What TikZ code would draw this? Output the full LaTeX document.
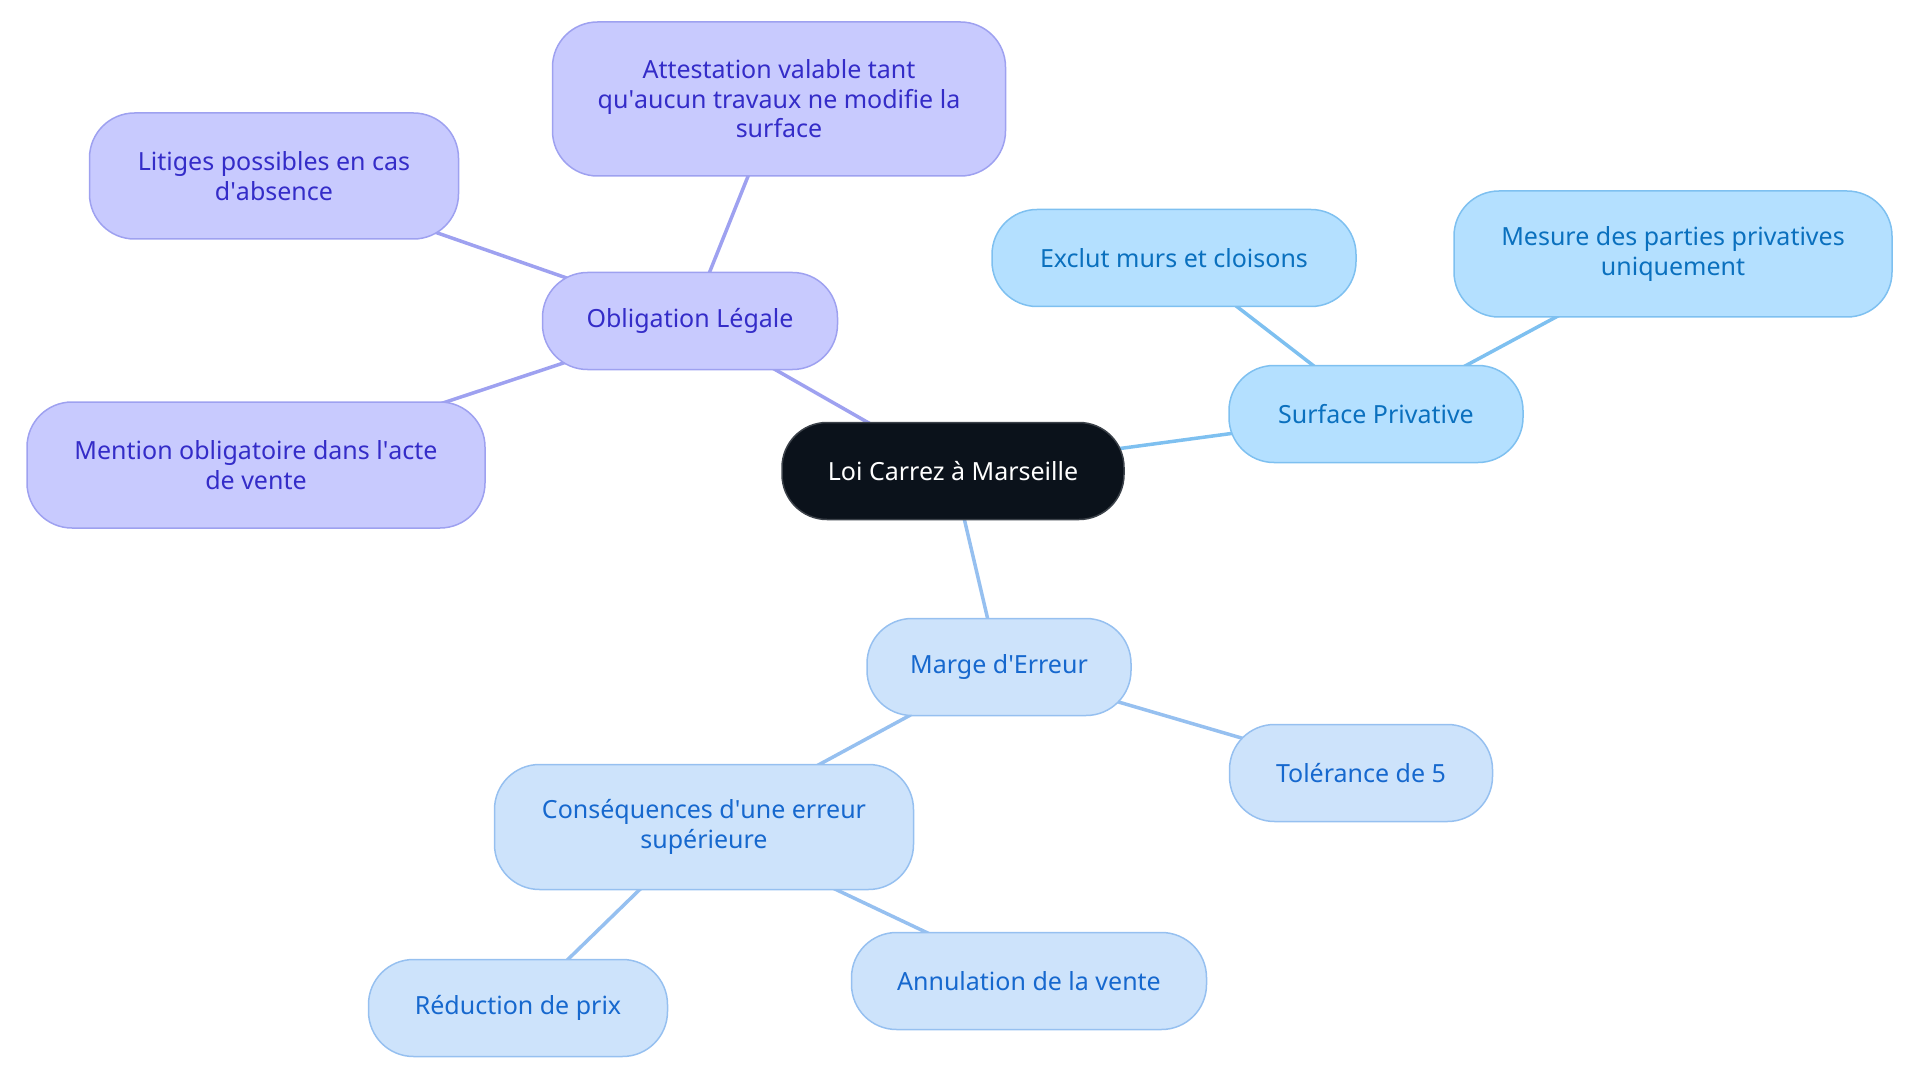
\documentclass[tikz,border=0pt]{standalone}
\usepackage{fontspec}
\setmainfont{Noto Sans}
\usetikzlibrary{backgrounds}
\definecolor{rootFill}{RGB}{11, 18, 27}
\definecolor{rootLine}{RGB}{60, 66, 74}
\definecolor{legalFill}{RGB}{200, 202, 254}
\definecolor{legalLine}{RGB}{158, 161, 240}
\definecolor{legalText}{RGB}{52, 44, 200}
\definecolor{surfFill}{RGB}{180, 224, 255}
\definecolor{surfLine}{RGB}{126, 192, 240}
\definecolor{surfText}{RGB}{10, 112, 190}
\definecolor{margeFill}{RGB}{205, 227, 251}
\definecolor{margeLine}{RGB}{150, 192, 240}
\definecolor{margeText}{RGB}{22, 104, 206}
\newcommand{\ap}{\textquotesingle}

\begin{document}
\begin{tikzpicture}[x=1pt,y=-1pt,
  box/.style={rectangle,rounded corners=45pt,line width=1.5pt,align=center,
    inner sep=0pt,minimum height=97pt,font=\fontsize{25}{29.4}\selectfont},
  root/.style={box,fill=rootFill,draw=rootLine,text=white},
  legal/.style={box,fill=legalFill,draw=legalLine,text=legalText},
  surf/.style={box,fill=surfFill,draw=surfLine,text=surfText},
  marge/.style={box,fill=margeFill,draw=margeLine,text=margeText},
  link/.style={line width=3.5pt}]
\useasboundingbox (0,0) rectangle (1920,1083);
% centre
\node[root,minimum width=342pt] (loi) at (953,471) {Loi Carrez à Marseille};
% obligation
\node[legal,minimum width=295pt] (oblig) at (690,321) {Obligation Légale};
\node[legal,minimum width=453pt,minimum height=154pt] (attest) at (779,99)
  {Attestation valable tant\\qu\ap aucun travaux ne modifie la\\surface};
\node[legal,minimum width=369pt,minimum height=126pt] (litige) at (274,176)
  {Litiges possibles en cas\\d\ap absence};
\node[legal,minimum width=458pt,minimum height=126pt] (mention) at (256,465)
  {Mention obligatoire dans l\ap acte\\de vente};
% surface
\node[surf,minimum width=294pt] (surf) at (1376,414) {Surface Privative};
\node[surf,minimum width=364pt] (exclut) at (1174,258) {Exclut murs et cloisons};
\node[surf,minimum width=438pt,minimum height=126pt] (mesure) at (1673,254)
  {Mesure des parties privatives\\uniquement};
% marge
\node[marge,minimum width=264pt] (marge) at (999,667) {Marge d\ap Erreur};
\node[marge,minimum width=263pt] (toler) at (1361,773) {Tolérance de 5};
\node[marge,minimum width=419pt,minimum height=125pt] (conseq) at (704,827)
  {Conséquences d\ap une erreur\\supérieure};
\node[marge,minimum width=299pt] (reduc) at (518,1008) {Réduction de prix};
\node[marge,minimum width=355pt] (annul) at (1029,981) {Annulation de la vente};

\begin{scope}[on background layer]
\draw[link,legalLine] (loi.center) -- (oblig.center);
\draw[link,legalLine] (oblig.center) -- (attest.center);
\draw[link,legalLine] (oblig.center) -- (litige.center);
\draw[link,legalLine] (oblig.center) -- (mention.center);
\draw[link,surfLine] (loi.center) -- (surf.center);
\draw[link,surfLine] (surf.center) -- (exclut.center);
\draw[link,surfLine] (surf.center) -- (mesure.center);
\draw[link,margeLine] (loi.center) -- (marge.center);
\draw[link,margeLine] (marge.center) -- (toler.center);
\draw[link,margeLine] (marge.center) -- (conseq.center);
\draw[link,margeLine] (conseq.center) -- (reduc.center);
\draw[link,margeLine] (conseq.center) -- (annul.center);
\end{scope}
\end{tikzpicture}
\end{document}
